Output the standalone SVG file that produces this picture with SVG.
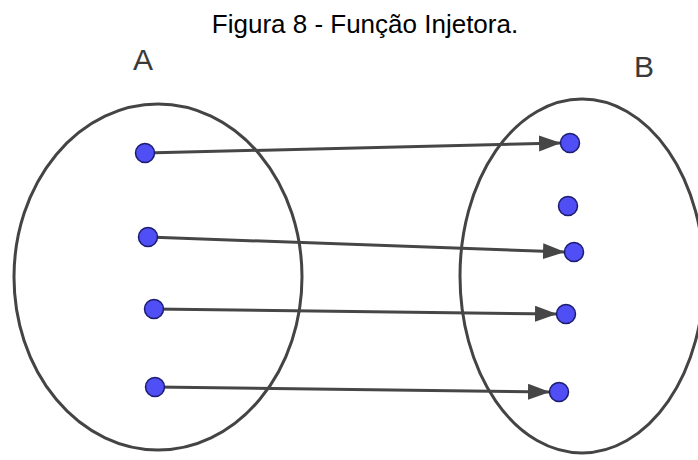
<svg xmlns="http://www.w3.org/2000/svg" width="698" height="460" viewBox="0 0 698 460">
<style>
.set{fill:none;stroke:#444;stroke-width:3}
.dot{fill:#4f4ff5;stroke:#1c1c70;stroke-width:1.5}
.conn{fill:none;stroke:#464646;stroke-width:3}
.lbl{font-family:"Liberation Sans",Arial,sans-serif;font-size:30px;fill:#3a3a3a}
.title{font-family:"Liberation Sans",Arial,sans-serif;font-size:26px;fill:#000}
</style>
<defs>
<marker id="arr" markerUnits="userSpaceOnUse" markerWidth="24" markerHeight="18" refX="22" refY="8" orient="auto">
<path d="M0,0 L22,8 L0,16 Z" fill="#464646"/>
</marker>
</defs>
<rect width="698" height="460" fill="#fff"/>
<text class="title" x="365" y="33" text-anchor="middle">Figura 8 - Função Injetora.</text>
<g id="setA">
<ellipse class="set" cx="158" cy="277" rx="144" ry="173"/>
<text class="lbl" x="143" y="70" text-anchor="middle">A</text>
</g>
<g id="setB">
<ellipse class="set" cx="582" cy="276" rx="122" ry="177"/>
<text class="lbl" x="644" y="77" text-anchor="middle">B</text>
</g>
<g id="connectors">
<path class="conn" d="M145,153 L561,143" marker-end="url(#arr)"/>
<path class="conn" d="M148,237 L565,252" marker-end="url(#arr)"/>
<path class="conn" d="M154,309 L557,314" marker-end="url(#arr)"/>
<path class="conn" d="M155,387 L550,392" marker-end="url(#arr)"/>
</g>
<g id="a1"><circle class="dot" cx="145" cy="153" r="9.5"/></g>
<g id="a2"><circle class="dot" cx="148" cy="237" r="9.5"/></g>
<g id="a3"><circle class="dot" cx="154" cy="309" r="9.5"/></g>
<g id="a4"><circle class="dot" cx="155" cy="387" r="9.5"/></g>
<g id="b1"><circle class="dot" cx="570" cy="143" r="9.5"/></g>
<g id="b2"><circle class="dot" cx="568" cy="206" r="9.5"/></g>
<g id="b3"><circle class="dot" cx="574" cy="252" r="9.5"/></g>
<g id="b4"><circle class="dot" cx="566" cy="314" r="9.5"/></g>
<g id="b5"><circle class="dot" cx="559" cy="392" r="9.5"/></g>
</svg>
